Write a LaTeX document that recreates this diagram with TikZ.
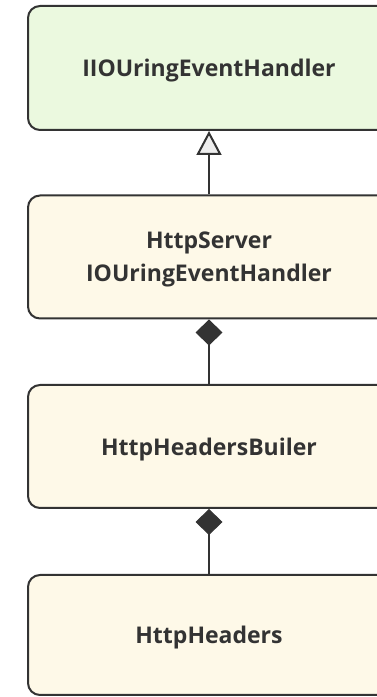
\documentclass[tikz,border=0pt]{standalone}
\usepackage{fontspec}
\setmainfont{Open Sans}
\usetikzlibrary{arrows.meta}
\definecolor{ink}{HTML}{333333}
\definecolor{ifacefill}{HTML}{EBF9DF}
\definecolor{classfill}{HTML}{FEF9E8}
\definecolor{headfill}{HTML}{EEEEEE}
\tikzset{
  umlbox/.style={draw=ink, line width=2pt, rounded corners=12pt,
    minimum width=362pt, inner sep=0pt, align=center, text depth=0pt,
    font=\fontsize{23}{33}\selectfont\bfseries, text=ink},
  iface/.style={umlbox, fill=ifacefill},
  cls/.style={umlbox, fill=classfill},
  inherit/.style={draw=ink, line width=2pt,
    -{Triangle[open, length=24pt, width=25pt, fill=headfill, line width=2pt]}},
  compose/.style={draw=ink, line width=2pt,
    {Diamond[length=26pt, width=27pt, fill=ink, line width=1pt]}-}
}
\begin{document}
\begin{tikzpicture}[x=1pt, y=1pt]
\useasboundingbox (0,0) rectangle (377,697);
\clip (0,0) rectangle (377,697);
\node[iface, minimum height=124pt] (handler) at (209,629) {IIOUringEventHandler};
\node[cls, minimum height=123pt] (server) at (209,440) {HttpServer\\IOUringEventHandler};
\node[cls, minimum height=123pt] (builder) at (209,250.5) {HttpHeadersBuiler};
\node[cls, minimum height=120pt] (headers) at (209,62) {HttpHeaders};
\draw[inherit] (server.north) -- (handler.south);
\draw[compose] (server.south) -- (builder.north);
\draw[compose] (builder.south) -- (headers.north);
\end{tikzpicture}
\end{document}
